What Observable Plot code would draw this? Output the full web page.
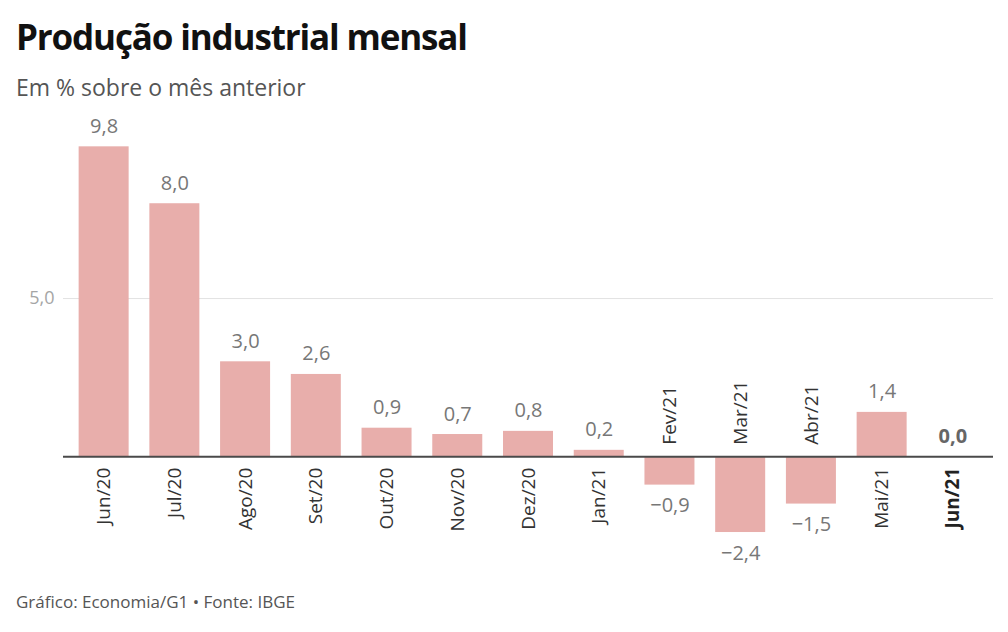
<!DOCTYPE html>
<html><head><meta charset="utf-8">
<script src="https://cdn.jsdelivr.net/npm/d3@7"></script>
<script src="https://cdn.jsdelivr.net/npm/@observablehq/plot@0.6"></script>
<style>
body{margin:0;background:#fff;font-family:"Open Sans",sans-serif;}
#wrap{width:1008px;height:632px;position:relative;overflow:hidden;background:#fff}
#title{position:absolute;left:16px;top:18.5px;margin:0;font-size:35px;font-weight:700;color:#111;letter-spacing:-1.15px;line-height:1;white-space:nowrap}
#sub{position:absolute;left:16px;top:76px;font-size:23px;color:#555;line-height:1;white-space:nowrap}
#chart{position:absolute;left:0;top:110px}
#cap{position:absolute;left:16px;top:593px;font-size:17px;color:#555;line-height:1;white-space:nowrap}
</style></head>
<body>
<div id="wrap">
<div id="title">Produção industrial mensal</div>
<div id="sub">Em % sobre o mês anterior</div>
<div id="chart"></div>
<div id="cap">Gráfico: Economia/G1 • Fonte: IBGE</div>
</div>
<script>
const meses = ["Jun/20","Jul/20","Ago/20","Set/20","Out/20","Nov/20","Dez/20","Jan/21","Fev/21","Mar/21","Abr/21","Mai/21","Jun/21"];
const valores = [9.8, 8.0, 3.0, 2.6, 0.9, 0.7, 0.8, 0.2, -0.9, -2.4, -1.5, 1.4, 0.0];
const yTicks = [5];
const destaque = ["Jun/21"];

const data = meses.map((m, i) => ({mes: m, valor: valores[i]}));
const fmt = v => (v < 0 ? "\u2212" : "") + Math.abs(v).toFixed(1).replace(".", ",");

const pos = data.filter(d => d.valor >= 0 && !destaque.includes(d.mes));
const neg = data.filter(d => d.valor < 0);
const hl = data.filter(d => destaque.includes(d.mes));

const chart = Plot.plot({
  width: 1008,
  height: 480,
  marginLeft: 63,
  marginRight: 15,
  marginTop: 30,
  marginBottom: 39,
  style: {fontFamily: "'Open Sans', sans-serif", background: "#fff"},
  x: {domain: meses, paddingInner: 0.293, paddingOuter: 0.221, round: false, axis: null},
  y: {domain: [-3, 10], axis: null},
  marks: [
    Plot.ruleY(yTicks, {stroke: "#e2e2e2", strokeWidth: 1}),
    Plot.axisY(yTicks, {tickSize: 0, tickPadding: 9, tickFormat: fmt, fill: "#a5a5a5", fontSize: 18, label: null}),
    Plot.barY(data, {x: "mes", y: "valor", fill: "#e8aeab"}),
    Plot.ruleY([0], {stroke: "#4a4a4a", strokeWidth: 2}),
    // value labels
    Plot.text(pos, {x: "mes", y: "valor", text: d => fmt(d.valor), lineAnchor: "bottom", dy: -14, fontSize: 20, fill: "#777"}),
    Plot.text(neg, {x: "mes", y: "valor", text: d => fmt(d.valor), lineAnchor: "top", dy: 13, fontSize: 20, fill: "#777"}),
    Plot.text(hl, {x: "mes", y: "valor", text: d => fmt(d.valor), lineAnchor: "bottom", dy: -14, fontSize: 20, fill: "#666", fontWeight: 700}),
    // category labels
    Plot.text(pos, {x: "mes", y: 0, text: "mes", rotate: -90, textAnchor: "end", dy: 11, fontSize: 19, fill: "#333"}),
    Plot.text(neg, {x: "mes", y: 0, text: "mes", rotate: -90, textAnchor: "start", dy: -12, fontSize: 19, fill: "#333"}),
    Plot.text(hl, {x: "mes", y: 0, text: "mes", rotate: -90, textAnchor: "end", dy: 11, fontSize: 19, fill: "#222", fontWeight: 700})
  ]
});
document.getElementById("chart").appendChild(chart);
</script>
</body></html>
